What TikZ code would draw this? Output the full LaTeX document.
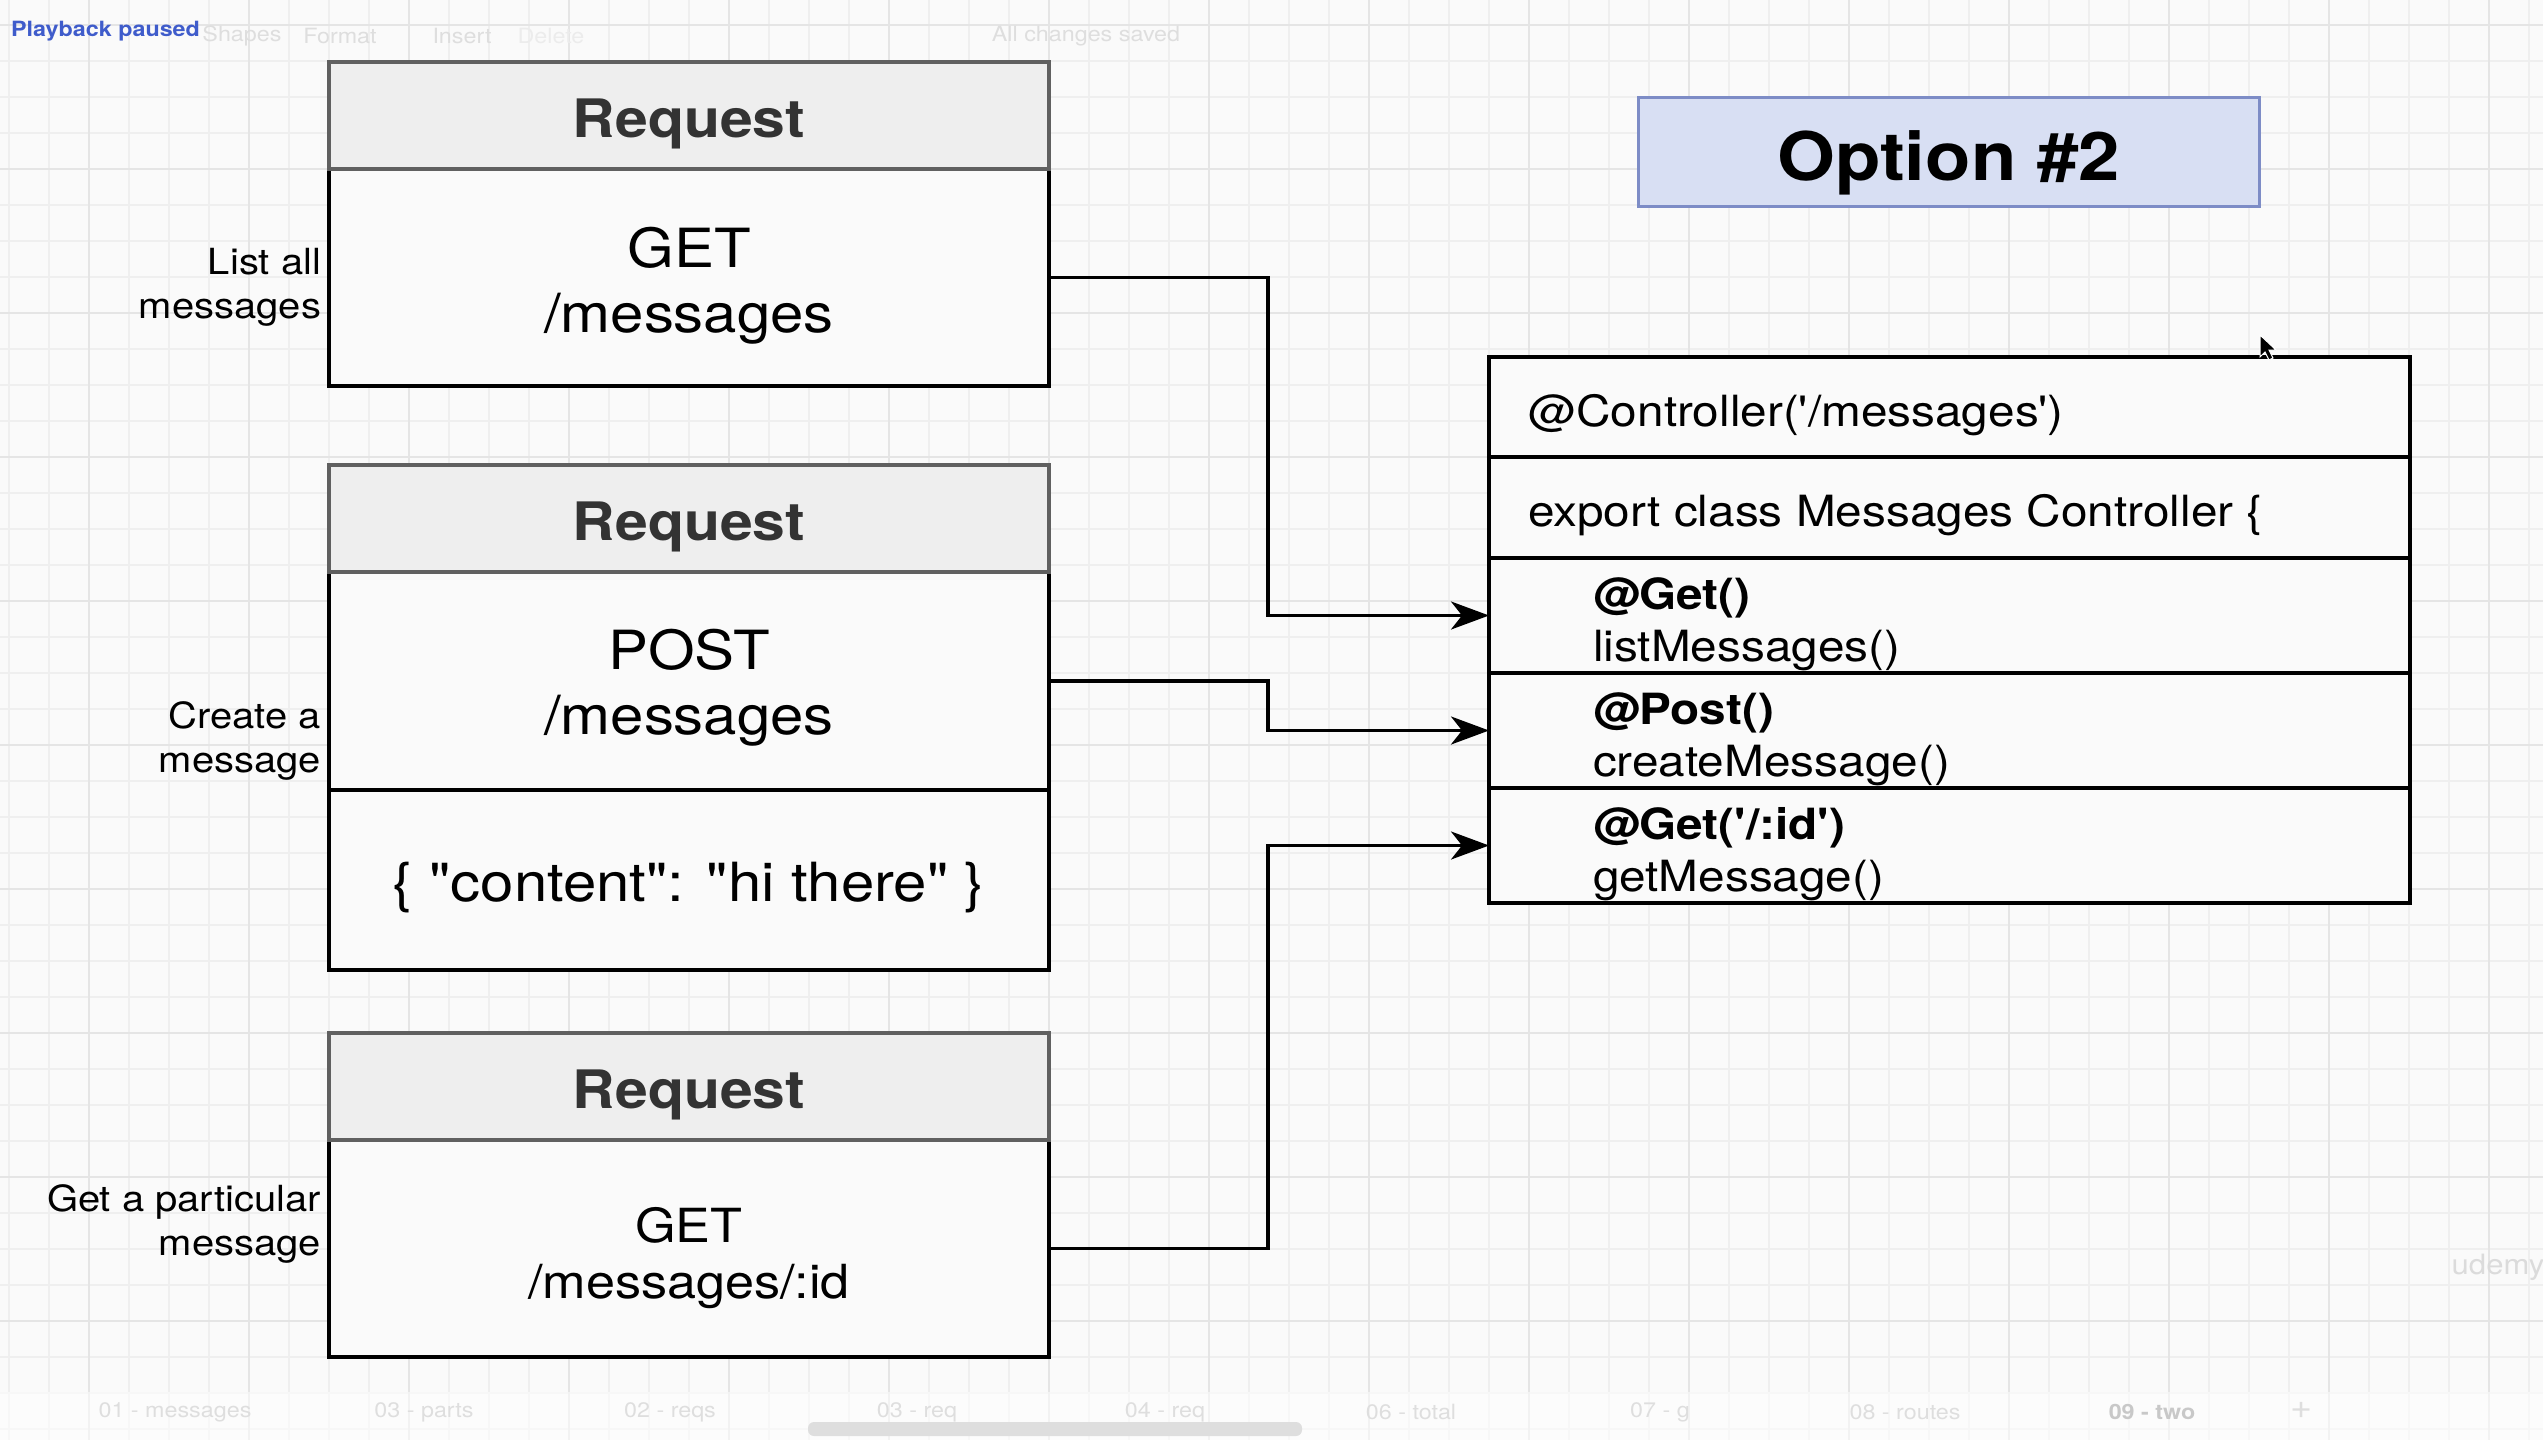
\documentclass[tikz,border=0pt]{standalone}
\usepackage{fontspec}
\setmainfont{TeX Gyre Heros}[FakeStretch=1.11,Ligatures=TeXOff]
\usetikzlibrary{arrows.meta}

\definecolor{canvas}{HTML}{FAFAFA}
\definecolor{gridminor}{HTML}{EFEFEF}
\definecolor{gridmajor}{HTML}{E5E5E5}
\definecolor{headfill}{HTML}{EEEEEE}
\definecolor{headline}{HTML}{606060}
\definecolor{headtext}{HTML}{333333}
\definecolor{optfill}{HTML}{D8DFF3}
\definecolor{optline}{HTML}{7D8CC6}
\definecolor{uifaint}{HTML}{DEDEDE}
\definecolor{uitab}{HTML}{C8C8C8}
\definecolor{pausedblue}{HTML}{3F5CCB}

\newcommand{\fsz}[2]{\fontsize{#1}{#2}\selectfont}

\begin{document}
\begin{tikzpicture}[x=1pt,y=-1pt,
  every node/.style={inner sep=0pt,outer sep=0pt},
  % boxes
  reqbody/.style={draw=black,line width=3.2pt,fill=canvas,minimum width=720pt,anchor=north west},
  reqhead/.style={draw=headline,line width=3.2pt,fill=headfill,minimum width=720pt,
    minimum height=107pt,anchor=north west},
  ctlrow/.style={draw=black,line width=3.2pt,fill=canvas,minimum width=921pt,anchor=north west},
  % texts
  headtxt/.style={text=headtext,font=\fsz{53}{60}\bfseries},
  bodytxt/.style={align=center,text=black,font=\fsz{54}{65}},
  rowtxt/.style={anchor=west,align=left,text=black,font=\fsz{43}{52}},
  sidelabel/.style={anchor=east,align=right,text=black,font=\fsz{36}{44}},
  conn/.style={draw=black,line width=3.3pt,
    -{Stealth[length=38pt,width=28pt,inset=11pt]}},
  uitext/.style={text=uifaint,font=\fsz{21}{24}},
]
\useasboundingbox (0,0) rectangle (2543,1440);
\fill[canvas] (0,0) rectangle (2543,1440);

% background grid
\foreach \i in {0,...,63}
  \draw[gridminor,line width=1.3pt] ({9+40*\i},0) -- ({9+40*\i},1440);
\foreach \j in {0,...,39}
  \draw[gridminor,line width=1.3pt] (0,{25+36*\j}) -- (2543,{25+36*\j});
\foreach \i in {0,...,15}
  \draw[gridmajor,line width=2.2pt] ({89+160*\i},0) -- ({89+160*\i},1440);
\foreach \j in {0,...,9}
  \draw[gridmajor,line width=2.2pt] (0,{25+144*\j}) -- (2543,{25+144*\j});

% editor toolbar
\node[anchor=west,text=pausedblue,font=\fsz{21}{24}\bfseries] (paused) at (11,31) {Playback paused};
\node[uitext] (tbshapes) at (242,36) {Shapes};
\node[uitext] (tbformat) at (340,36) {Format};
\node[uitext] (tbinsert) at (462,36) {Insert};
\node[uitext,text=canvas!50!uifaint] (tbdelete) at (551,36) {Delete};
\node[uitext] (tbsaved) at (1086,36) {All changes saved};

% request 1
\node[reqbody,minimum height=217pt] (b1) at (329,169) {};
\node[reqhead] (h1) at (329,62) {};
\node[headtxt] (h1t) at ([yshift=-8pt]h1.center) {Request};
\node[bodytxt] (b1t) at ([yshift=-8pt]b1.center) {GET\\/messages};
\node[sidelabel] (l1) at (321,287) {List all\\messages};

% request 2
\node[reqbody,minimum height=218pt] (b2) at (329,572) {};
\node[reqbody,minimum height=180pt] (p2) at (329,790) {};
\node[reqhead] (h2) at (329,465) {};
\node[headtxt] (h2t) at ([yshift=-8pt]h2.center) {Request};
\node[bodytxt] (b2t) at ([yshift=-7pt]b2.center) {POST\\/messages};
\node[bodytxt] (p2t) at ([yshift=-8pt]p2.center) {\{ "content": "hi there" \}};
\node[sidelabel] (l2) at (321,741) {Create a\\message};

% request 3
\node[reqbody,minimum height=217pt] (b3) at (329,1140) {};
\node[reqhead] (h3) at (329,1033) {};
\node[headtxt] (h3t) at ([yshift=-8pt]h3.center) {Request};
\node[bodytxt,font=\fsz{47}{56}] (b3t) at ([yshift=-10pt]b3.center) {GET\\/messages/:id};
\node[sidelabel] (l3) at (321,1224) {Get a particular\\message};

% option title
\node[draw=optline,line width=3pt,fill=optfill,minimum width=621pt,minimum height=109pt,
  anchor=north west] (opt) at (1638,97) {};
\node[font=\fsz{67}{70}\bfseries] (optt) at ([yshift=-11pt]opt.center) {Option \#2};

% controller class
\node[ctlrow,minimum height=100pt] (c1) at (1489,357) {};
\node[ctlrow,minimum height=101pt] (c2) at (1489,457) {};
\node[ctlrow,minimum height=115pt] (m1) at (1489,558) {};
\node[ctlrow,minimum height=115pt] (m2) at (1489,673) {};
\node[ctlrow,minimum height=115pt] (m3) at (1489,788) {};
\node[rowtxt] (c1t) at ([xshift=39pt,yshift=-8pt]c1.west) {@Controller('/messages')};
\node[rowtxt] (c2t) at ([xshift=39pt,yshift=-8pt]c2.west) {export class Messages Controller \{};
\node[rowtxt] (m1t) at ([xshift=104pt,yshift=-9pt]m1.west) {\textbf{@Get()}\\listMessages()};
\node[rowtxt] (m2t) at ([xshift=104pt,yshift=-9pt]m2.west) {\textbf{@Post()}\\createMessage()};
\node[rowtxt] (m3t) at ([xshift=104pt,yshift=-9pt]m3.west) {\textbf{@Get('/:id')}\\getMessage()};

% routing connectors
\draw[conn] (b1.east) -- ++(219,0) |- (m1.west);
\draw[conn] (b2.east) -- ++(219,0) |- (m2.west);
\draw[conn] (b3.east) -- ++(219,0) |- (m3.west);

% mouse pointer
\filldraw[fill=black,draw=white,line width=1pt]
  (2260,335) -- (2260,357) -- (2265,352) -- (2269,360) -- (2273,358)
  -- (2269,350) -- (2276,350) -- cycle;

% watermark
\node[text=black!14,font=\fsz{28}{30}] (mark) at (2498,1267) {udemy};

% page tabs
\fill[white,opacity=0.5] (0,1392) rectangle (2543,1440);
\node[uitext] (t1) at (175,1412) {01 - messages};
\node[uitext] (t2) at (424,1412) {03 - parts};
\node[uitext] (t3) at (670,1412) {02 - reqs};
\node[uitext] (t4) at (917,1412) {03 - req};
\node[uitext] (t5) at (1165,1412) {04 - req};
\node[uitext] (t6) at (1411,1412) {06 - total};
\node[uitext] (t7) at (1660,1412) {07 - g};
\node[uitext] (t8) at (1905,1412) {08 - routes};
\node[uitext,text=uitab,font=\fsz{21}{24}\bfseries] (t9) at (2152,1412) {09 - two};
\node[uitext,font=\fsz{34}{34}] (tadd) at (2301,1410) {+};
\fill[black!13,rounded corners=6pt] (808,1422) rectangle (1302,1436);
\end{tikzpicture}
\end{document}
